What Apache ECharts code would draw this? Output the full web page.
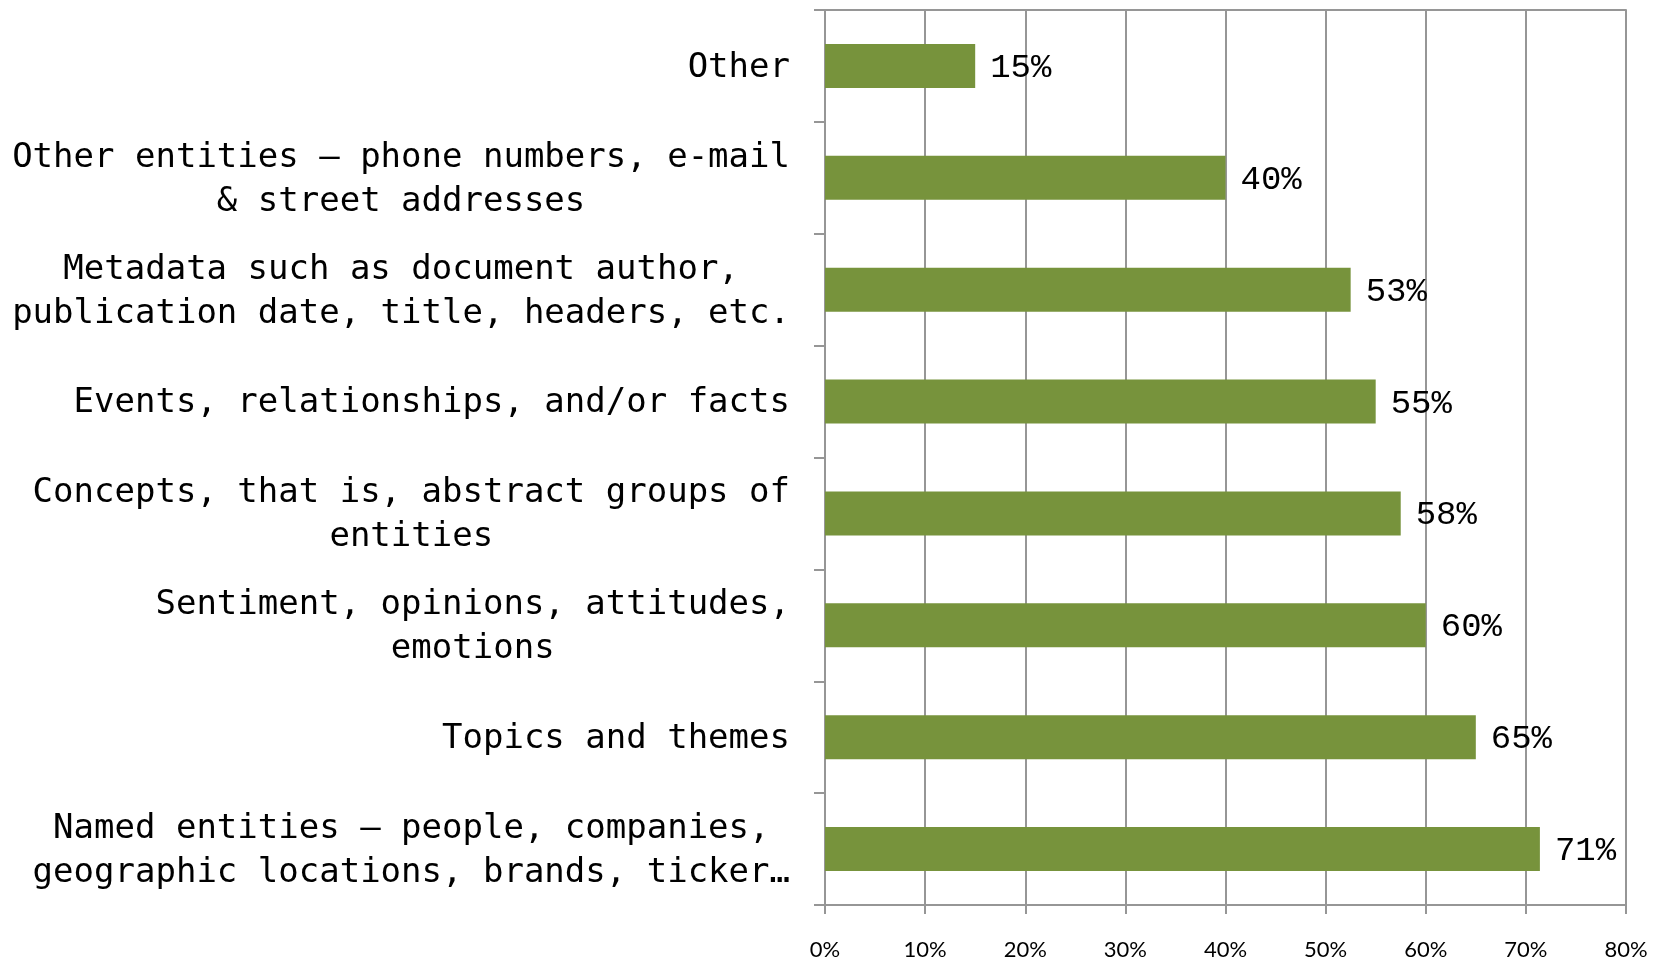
<!DOCTYPE html>
<html>
<head>
<meta charset="utf-8">
<script src="https://cdn.jsdelivr.net/npm/echarts@6/dist/echarts.min.js"></script>
<style>
html,body{margin:0;padding:0;background:#fff;}
#chart{width:1653px;height:961px;}
</style>
</head>
<body>
<div id="chart"></div>
<script>
// Categories listed top to bottom
const categories = [
  'Other',
  'Other entities – phone numbers, e-mail\n& street addresses',
  'Metadata such as document author,\npublication date, title, headers, etc.',
  'Events, relationships, and/or facts',
  'Concepts, that is, abstract groups of\nentities',
  'Sentiment, opinions, attitudes,\nemotions',
  'Topics and themes',
  'Named entities – people, companies,\ngeographic locations, brands, ticker…'
];
// Percent of respondents
const values = [15, 40, 52.5, 55, 57.5, 60, 65, 71.4];
// Value axis tick labels
const xTicks = [0, 10, 20, 30, 40, 50, 60, 70, 80];

const MONO = '"DejaVu Sans Mono", "Liberation Mono", monospace';
const LABEL_FONT = '"Liberation Mono", "DejaVu Sans Mono", monospace';
const GRID = '#969696';

const chart = echarts.init(document.getElementById('chart'), null, {renderer: 'canvas'});
chart.setOption({
  animation: false,
  backgroundColor: '#ffffff',
  grid: {left: 825, right: 27, top: 10, bottom: 52.5, containLabel: false},
  xAxis: [{
    type: 'value',
    position: 'bottom',
    min: xTicks[0],
    max: xTicks[xTicks.length - 1],
    interval: 10,
    axisLine: {show: true, lineStyle: {color: GRID, width: 2}},
    axisTick: {show: true, length: 9, lineStyle: {color: GRID, width: 2}},
    splitLine: {show: true, lineStyle: {color: GRID, width: 2}},
    axisLabel: {
      margin: 34,
      fontFamily: 'Lato, "Liberation Sans", sans-serif',
      fontSize: 22,
      color: '#000',
      formatter: v => v + '%'
    }
  }, {
    type: 'value',
    position: 'top',
    min: xTicks[0],
    max: xTicks[xTicks.length - 1],
    interval: 10,
    axisLine: {show: true, onZero: false, lineStyle: {color: GRID, width: 2}},
    axisTick: {show: false},
    splitLine: {show: false},
    axisLabel: {show: false}
  }],
  yAxis: {
    type: 'category',
    inverse: true,
    data: categories,
    axisLine: {show: true, lineStyle: {color: GRID, width: 2}},
    axisTick: {show: true, length: 11, lineStyle: {color: GRID, width: 2}},
    axisLabel: {
      margin: 35,
      align: 'right',
      padding: [4, 0, 0, 0],
      formatter: v => v.split('\n').map(l => '{c|' + l + '}').join('\n'),
      rich: {
        c: {
          align: 'center',
          fontFamily: MONO,
          fontSize: 34,
          lineHeight: 44,
          color: '#000'
        }
      }
    }
  },
  series: [{
    type: 'bar',
    data: values,
    barWidth: 44,
    itemStyle: {color: '#77933C'},
    label: {
      show: true,
      position: 'right',
      distance: 15,
      offset: [0, 2],
      fontFamily: LABEL_FONT,
      fontSize: 34,
      color: '#000',
      formatter: p => Math.round(p.value) + '%'
    }
  }]
});
</script>
</body>
</html>
